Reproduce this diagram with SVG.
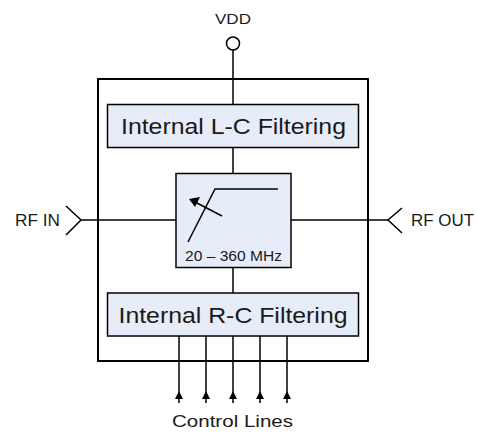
<svg xmlns="http://www.w3.org/2000/svg" width="477" height="434" viewBox="0 0 477 434">
<style>
text{font-family:"Liberation Sans",Arial,sans-serif;fill:#1a1a1a}
.ln{stroke:#000;stroke-width:1.5;fill:none}
.box{fill:#e6edf8;stroke:#000;stroke-width:1.5}
</style>
<rect id="outer" x="98" y="79" width="270" height="282" fill="#fff" stroke="#000" stroke-width="2"/>
<g id="connectors">
<line class="ln" x1="233" y1="50" x2="233" y2="104"/>
<line class="ln" x1="233" y1="147" x2="233" y2="173"/>
<line class="ln" x1="233" y1="267" x2="233" y2="293"/>
<line class="ln" x1="81" y1="220" x2="176" y2="220"/>
<line class="ln" x1="291" y1="220" x2="388" y2="220"/>
<polyline class="ln" points="66,206 81,220 66,235"/>
<polyline class="ln" points="402,208 388,220 402,233"/>
<line class="ln" x1="179" y1="403" x2="179" y2="336"/>
<line class="ln" x1="206" y1="403" x2="206" y2="336"/>
<line class="ln" x1="233" y1="403" x2="233" y2="336"/>
<line class="ln" x1="260" y1="403" x2="260" y2="336"/>
<line class="ln" x1="287" y1="403" x2="287" y2="336"/>
<path d="M179,391 L183,399 L175,399 Z M206,391 L210,399 L202,399 Z M233,391 L237,399 L229,399 Z M260,391 L264,399 L256,399 Z M287,391 L291,399 L283,399 Z" fill="#000"/>
</g>
<g id="vdd">
<circle cx="233" cy="43.5" r="6.5" fill="#fff" stroke="#000" stroke-width="1.5"/>
<text x="215" y="24" font-size="14.5" textLength="36" lengthAdjust="spacingAndGlyphs">VDD</text>
</g>
<g id="lc">
<rect class="box" x="107.5" y="104.5" width="251" height="43"/>
<text x="121" y="133.5" font-size="22.5" textLength="225" lengthAdjust="spacingAndGlyphs">Internal L-C Filtering</text>
</g>
<g id="atten">
<rect class="box" x="176" y="173.5" width="115" height="94"/>
<polyline class="ln" points="188,242 215,189 278,189"/>
<line class="ln" x1="222" y1="216" x2="195" y2="202"/>
<path d="M189,199 L200,197 L195,207 Z" fill="#000"/>
<text x="185" y="261" font-size="14" textLength="97" lengthAdjust="spacingAndGlyphs">20 – 360 MHz</text>
</g>
<g id="rc">
<rect class="box" x="107.5" y="293" width="251" height="43"/>
<text x="118.5" y="323" font-size="22.5" textLength="229" lengthAdjust="spacingAndGlyphs">Internal R-C Filtering</text>
</g>
<g id="rfin"><text x="15" y="226" font-size="16" textLength="45" lengthAdjust="spacingAndGlyphs">RF IN</text></g>
<g id="rfout"><text x="411" y="226" font-size="16" textLength="63" lengthAdjust="spacingAndGlyphs">RF OUT</text></g>
<g id="ctrl"><text x="172" y="427" font-size="16.5" textLength="121" lengthAdjust="spacingAndGlyphs">Control Lines</text></g>
</svg>
